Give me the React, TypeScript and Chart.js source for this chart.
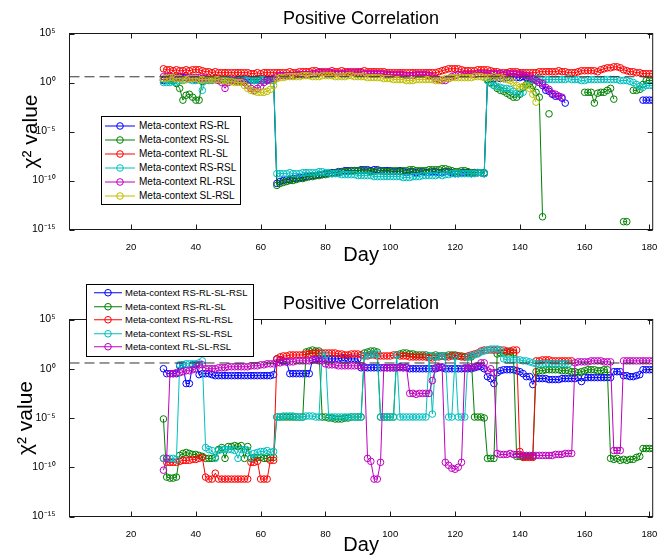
import React, { useEffect, useRef } from "react";
import { Chart, registerables } from "chart.js";

Chart.register(...registerables);

const FONT = '"Liberation Sans", Arial, Helvetica, sans-serif';
const TITLE = "Positive Correlation";
const X_LABEL = "Day";
const Y_LABEL = "χ² value";
const FIRST_DAY = 30;
const X_MIN = 1;
const X_MAX = 181;
const X_TICKS = [20, 40, 60, 80, 100, 120, 140, 160, 180];
const X_TICK_LABELS = ["20", "40", "60", "80", "100", "120", "140", "160", "180"];
const Y_MIN = 1e-15;
const Y_MAX = 1e5;
const Y_TICKS = [1e-15, 1e-10, 1e-5, 1e0, 1e5];
const Y_TICK_LABELS = ["10⁻¹⁵", "10⁻¹⁰", "10⁻⁵", "10⁰", "10⁵"];
const THRESHOLD = 3.84;

const BLUE = "#0000ff";
const GREEN = "#008000";
const RED = "#ff0000";
const CYAN = "#00bfbf";
const MAGENTA = "#bf00bf";
const YELLOW = "#bfbf00";

// log10(chi^2) per day, starting at day 30 (null = no value)
const topRSRL = [
  0.2, 0.3, 0.4, 0.5, 0.5, 0.6, 0.5, 0.5, 0.4, 0.4,
  0.3, 0.3, 0.4, 0.4, 0.3, 0.3, 0.4, 0.4, 0.3, 0.3,
  0.3, 0.2, 0.2, 0.3, 0.3, 0.4, 0.3, 0.3, 0.2, 0.3,
  0.4, 0.3, 0.3, 0.2, 0.3, -10.3, -10.1, -10.0, -9.9, -9.9,
  -9.8, -9.8, -9.7, -9.7, -9.6, -9.6, -9.5, -9.5, -9.4, -9.4,
  -9.3, -9.3, -9.2, -9.2, -9.1, -9.1, -9.0, -9.0, -9.0, -9.0,
  -9.0, -8.9, -8.9, -8.9, -9.0, -8.9, -8.9, -9.0, -9.0, -9.0,
  -9.0, -9.1, -9.1, -9.0, -9.1, -9.2, -9.1, -9.1, -9.2, -9.1,
  -9.1, -9.2, -9.2, -9.1, -9.1, -9.2, -9.2, -9.1, -9.1, -9.2,
  -9.3, -9.3, -9.2, -9.2, -9.2, -9.3, -9.2, -9.2, -9.2, -9.3,
  0.3, 0.4, 0.4, 0.5, 0.4, 0.4, 0.5, 0.5, 0.6, 0.5,
  0.5, 0.6, 0.5, 0.4, 0.3, 0.2, 0.0, -0.3, -0.8, -0.9,
  -1.2, -1.4, -1.4, -1.6, -2.1, null, null, null, null, null,
  null, null, null, null, null, null, null, null, null, null,
  null, null, null, null, null, null, null, null, -1.8, -1.8,
  -1.8, -1.8,
];
const topRSSL = [
  0.3, 0.3, 0.2, 0.2, -0.1, -0.6, -1.8, -1.3, -1.2, -1.5,
  -1.8, -1.8, 0.1, 0.2, 0.3, 0.3, 0.4, 0.3, 0.3, 0.3,
  0.3, 0.3, 0.2, 0.2, 0.3, 0.3, 0.2, 0.2, 0.3, 0.3,
  0.3, 0.3, 0.2, 0.2, 0.3, -10.5, -10.3, -10.2, -10.1, -10.0,
  -10.0, -9.9, -9.8, -9.8, -9.7, -9.6, -9.6, -9.5, -9.5, -9.4,
  -9.4, -9.3, -9.3, -9.2, -9.2, -9.1, -9.1, -9.1, -9.0, -9.0,
  -9.0, -9.0, -9.0, -9.0, -9.1, -9.1, -9.0, -9.0, -9.1, -9.1,
  -9.1, -9.0, -9.0, -9.1, -9.0, -9.0, -8.9, -8.9, -9.0, -9.0,
  -9.0, -9.0, -8.9, -8.9, -8.9, -8.9, -8.8, -8.8, -8.9, -9.0,
  -9.1, -9.1, -9.0, -9.0, -9.1, -9.2, -9.2, -9.2, -9.2, -9.2,
  0.3, 0.0, -0.3, -0.6, -0.8, -0.9, -1.1, -1.3, -1.5, -1.5,
  -1.2, -0.5, -0.2, -0.1, -0.3, -1.0, -1.5, -13.7, null, -3.2,
  null, null, null, null, null, null, null, null, null, null,
  -1.0, -1.0, -1.0, -2.1, -1.1, -1.0, -1.0, -0.8, -0.6, -1.7,
  null, null, -14.2, -14.2, null, -0.8, -0.8, -0.7, -0.2, 0.2,
  0.2, 0.2,
];
const topRLSL = [
  1.4, 1.3, 1.3, 1.2, 1.3, 1.2, 1.2, 1.3, 1.2, 1.3,
  1.3, 1.3, 1.2, 1.1, 1.1, 1.0, 1.1, 1.0, 1.0, 1.0,
  1.0, 1.0, 1.0, 1.0, 1.0, 1.0, 1.0, 0.9, 0.9, 1.0,
  0.9, 1.0, 1.0, 1.0, 1.0, 1.0, 1.0, 1.0, 1.0, 1.1,
  1.0, 1.0, 1.1, 1.1, 1.1, 1.1, 1.2, 1.2, 1.1, 1.1,
  1.1, 1.1, 1.2, 1.1, 1.1, 1.2, 1.1, 1.1, 1.1, 1.1,
  1.1, 1.1, 1.2, 1.1, 1.1, 1.1, 1.1, 1.1, 1.1, 1.0,
  1.0, 1.0, 1.0, 1.0, 1.0, 1.0, 1.0, 1.0, 1.0, 1.0,
  1.0, 1.0, 1.0, 1.0, 1.0, 1.1, 1.2, 1.3, 1.4, 1.4,
  1.4, 1.4, 1.3, 1.2, 1.2, 1.2, 1.2, 1.3, 1.3, 1.3,
  1.3, 1.2, 1.1, 1.1, 1.0, 1.0, 1.0, 1.1, 1.1, 1.1,
  1.0, 1.0, 1.0, 1.0, 1.0, 1.0, 1.1, 1.1, 1.1, 1.1,
  1.1, 1.1, 1.2, 1.1, 1.1, 1.0, 1.0, 1.0, 1.1, 1.2,
  1.2, 1.2, 1.2, 1.2, 1.1, 1.3, 1.4, 1.5, 1.5, 1.6,
  1.6, 1.5, 1.3, 1.2, 1.1, 1.1, 1.0, 1.0, 0.9, 0.9,
  0.9, 0.9,
];
const topRSRSL = [
  0.0, 0.0, 0.0, 0.1, 0.0, 0.2, 0.2, 0.3, 0.3, 0.2,
  0.2, 0.3, -0.8, 0.2, 0.2, 0.2, 0.3, 0.3, 0.3, 0.3,
  0.3, 0.2, 0.2, 0.2, 0.3, 0.3, 0.2, 0.2, 0.2, 0.2,
  0.3, 0.3, 0.2, 0.2, 0.2, -9.3, -9.3, -9.3, -9.3, -9.2,
  -9.3, -9.3, -9.3, -9.2, -9.2, -9.2, -9.2, -9.2, -9.1, -9.1,
  -9.2, -9.2, -9.3, -9.3, -9.3, -9.4, -9.4, -9.4, -9.4, -9.4,
  -9.5, -9.5, -9.5, -9.5, -9.5, -9.6, -9.6, -9.6, -9.6, -9.6,
  -9.6, -9.6, -9.6, -9.6, -9.7, -9.7, -9.7, -9.6, -9.6, -9.6,
  -9.5, -9.5, -9.5, -9.5, -9.5, -9.4, -9.5, -9.4, -9.4, -9.3,
  -9.3, -9.3, -9.3, -9.3, -9.3, -9.3, -9.3, -9.2, -9.2, -9.3,
  0.2, -0.1, -0.3, -0.4, -0.5, -0.6, -0.6, -0.7, -0.9, -1.1,
  -1.1, -1.0, -0.3, 0.2, 0.4, 0.4, 0.4, 0.3, 0.3, 0.3,
  0.3, 0.3, 0.3, 0.3, 0.3, 0.4, 0.3, 0.3, 0.3, 0.2,
  0.2, 0.3, 0.3, 0.3, 0.3, 0.3, 0.3, 0.3, 0.3, 0.3,
  0.3, 0.2, 0.2, 0.2, 0.1, 0.0, -0.2, -0.4, -0.5, -0.3,
  -0.3, -0.3,
];
const topRLRSL = [
  0.6, 0.6, 0.6, 0.5, 0.5, 0.5, 0.6, 0.5, 0.5, 0.5,
  0.5, 0.5, 0.4, 0.4, 0.3, 0.3, 0.3, 0.2, 0.0, -0.6,
  0.0, 0.2, 0.2, 0.1, 0.1, 0.0, -0.3, -0.6, -0.8, -0.6,
  -0.4, 0.0, 0.2, 0.3, 0.4, 0.6, 0.7, 0.7, 0.7, 0.7,
  0.7, 0.8, 0.8, 0.8, 0.8, 0.8, 0.9, 0.9, 1.0, 1.0,
  1.0, 1.0, 1.0, 0.9, 0.9, 0.9, 0.9, 1.0, 1.0, 1.0,
  1.0, 1.0, 0.9, 0.9, 0.9, 0.9, 0.9, 0.9, 0.9, 0.8,
  0.8, 0.8, 0.8, 0.8, 0.8, 0.7, 0.7, 0.7, 0.8, 0.8,
  0.8, 0.8, 0.7, 0.6, 0.4, 0.3, 0.2, 0.2, 0.4, 0.6,
  0.7, 0.8, 0.8, 0.8, 0.8, 0.8, 0.8, 0.9, 0.9, 0.9,
  0.9, 0.9, 0.9, 0.9, 0.9, 0.8, 0.9, 0.9, 0.9, 0.9,
  0.8, 0.8, 0.7, 0.6, 0.4, 0.2, 0.0, -0.1, -0.5, -0.7,
  -1.1, -1.2, -1.4, -1.5,
];
const topSLRSL = [
  0.4, 0.4, 0.5, 0.5, 0.4, 0.4, 0.3, 0.3, 0.4, 0.4,
  0.4, 0.3, 0.3, 0.3, 0.3, 0.3, 0.3, 0.3, 0.2, 0.2,
  0.1, 0.1, 0.0, 0.0, 0.0, -0.3, -0.6, -0.8, -0.9, -1.0,
  -1.0, -1.0, -0.9, -0.7, -0.3, 0.4, 0.5, 0.5, 0.6, 0.6,
  0.6, 0.6, 0.6, 0.7, 0.7, 0.7, 0.6, 0.6, 0.6, 0.7,
  0.7, 0.7, 0.7, 0.6, 0.6, 0.6, 0.6, 0.7, 0.7, 0.6,
  0.6, 0.6, 0.6, 0.5, 0.5, 0.5, 0.5, 0.5, 0.4, 0.4,
  0.4, 0.3, 0.3, 0.3, 0.3, 0.2, 0.2, 0.2, 0.3, 0.3,
  0.3, 0.3, 0.3, 0.3, 0.2, 0.2, 0.3, 0.4, 0.4, 0.5,
  0.5, 0.5, 0.5, 0.5, 0.5, 0.5, 0.6, 0.6, 0.6, 0.5,
  0.5, 0.5, 0.6, 0.5, 0.5, 0.4, 0.3, 0.2, 0.0, -0.3,
  -0.5, -0.4, -0.3, -0.6, -1.2, -2.0,
];

const botRSRLSLRSL = [
  0.0, -0.5, -0.5, -0.5, -0.5, 0.3, 0.4, -1.5, -1.5, 0.4,
  0.4, -0.6, -0.5, -0.5, -0.5, -0.6, -0.7, -0.7, -0.7, -0.7,
  -0.7, -0.7, -0.7, -0.7, -0.7, -0.7, -0.7, -0.7, -0.7, -0.7,
  -0.7, -0.7, -0.7, -0.7, -0.6, 1.0, 0.9, 0.8, 0.7, -0.5,
  -0.5, -0.5, -0.5, -0.5, -0.5, -0.5, 0.9, 1.0, 1.0, 1.0,
  1.0, 1.0, 1.0, 1.0, 1.0, 1.1, 1.1, 1.0, 1.0, 1.0,
  1.0, 0.1, 0.1, 0.1, 0.1, 0.1, 0.1, 0.1, 0.1, 0.1,
  0.1, 0.1, 0.1, 0.2, 0.1, 0.1, 0.0, 0.0, 0.0, 0.0,
  0.0, 0.0, 0.0, 0.0, 0.0, 0.1, 0.1, 0.0, 0.0, 0.0,
  0.0, 0.0, 0.0, 0.0, 0.0, 0.0, 0.1, 0.2, 0.2, 0.0,
  -0.8, -1.0, -1.5, -0.4, -0.2, -0.1, -0.1, -0.1, -0.1, -0.2,
  -0.3, -0.5, -0.8, -0.8, -1.6, -1.0, -1.0, -1.0, -1.0, -1.1,
  -1.1, -1.1, -1.1, -1.0, -1.0, -1.0, -1.0, -1.0, -0.9, -1.3,
  -0.9, -0.9, -0.9, -0.9, -0.9, -0.9, -0.9, -0.9, -0.9, -0.3,
  -0.3, -0.3, -0.7, -0.7, -0.8, -0.8, -0.7, -0.6, -0.1, -0.1,
  -0.1, -0.1,
];
const botRSRLSL = [
  -5.1, -11.0, -11.1, -11.1, -11.0, -8.8, -8.6, -8.5, -8.6, -8.7,
  -8.7, -8.8, -8.9, -9.1, -9.1, -9.1, -9.0, -8.2, -8.0, -9.1,
  -7.9, -7.9, -7.8, -7.9, -7.8, -9.1, -7.9, -9.1, -9.0, -9.0,
  -9.0, -9.1, -9.1, -9.0, -9.0, -4.9, -4.9, -4.9, -4.9, -4.9,
  -4.9, -4.9, -4.9, -4.9, 1.7, 1.8, 1.9, 1.8, 1.8, -4.9,
  -4.9, -5.0, -5.0, -5.1, -5.1, -5.1, -5.0, -5.0, -4.9, -4.9,
  -4.9, -4.9, 1.6, 1.7, 1.8, 1.8, 1.7, -4.9, -4.9, -4.9,
  -4.9, -4.9, 1.4, 1.5, 1.6, 1.6, 1.5, 1.5, 1.4, 1.4,
  1.4, 1.4, 1.3, 1.3, 1.4, 1.3, 1.3, 1.3, 1.4, 1.4,
  1.4, 1.3, 1.3, 1.2, 1.2, 1.2, -4.9, -4.9, -4.9, -5.0,
  -9.1, -9.1, -9.1, 1.5, 1.6, 1.6, 1.7, 1.7, 1.6, -8.9,
  -8.9, -8.9, -8.9, -8.9, -8.9, -0.3, -0.2, -0.2, -0.1, -0.1,
  -0.1, -0.1, -0.1, -0.2, -0.2, -0.2, -0.3, -0.3, -0.4, -0.3,
  -0.2, -0.1, -0.1, -0.1, -0.2, -0.2, -0.1, -0.1, -9.1, -9.2,
  -9.1, -9.3, -9.2, -9.3, -9.2, -9.2, -9.0, -8.9, -8.1, -8.1,
  -8.1, -8.1,
];
const botRSRLRSL = [
  -9.1, -9.5, -9.5, -9.5, -9.5, -9.4, -9.3, -9.3, -9.3, -9.2,
  -9.2, -9.1, -9.0, -11.0, -11.2, -11.2, -10.6, -11.2, -11.2, -11.2,
  -11.2, -11.2, -11.2, -11.2, -11.2, -11.2, -11.2, -9.5, -9.5, -9.4,
  -11.2, -11.2, -11.2, -9.3, -9.3, 1.0, 1.2, 1.3, 1.3, 1.4,
  1.4, 1.4, 1.4, 1.4, 1.5, 1.5, 1.6, 1.6, 1.6, 1.6,
  1.6, 1.6, 1.6, 1.6, 1.5, 1.5, 1.4, 1.4, 1.5, 1.5,
  1.5, 1.4, 1.3, 1.3, 1.4, 1.4, 1.3, 1.3, 1.3, 1.3,
  1.3, 1.4, 1.4, 1.3, 1.3, 1.3, 1.2, 1.2, 1.2, 1.2,
  1.2, 1.2, 1.1, 1.1, 1.2, 1.2, 1.3, 1.2, 1.2, 1.3,
  1.3, 1.3, 1.2, 1.2, 1.3, 1.4, 1.5, 1.6, 1.8, 1.9,
  1.9, 1.9, 1.9, 1.9, 1.9, 1.9, 1.8, 1.8, 1.9, 1.9,
  -8.4, -9.0, -9.0, -9.0, -9.0, 0.8, 0.8, 0.9, 0.9, 0.9,
  0.8, 0.8, 0.8, 0.8, 0.8, 0.8, 0.8,
];
const botRSSLRSL = [
  -9.1, -9.1, -9.1, -9.1, -9.2, 0.4, 0.4, 0.5, 0.5, 0.5,
  0.5, 0.6, 0.8, -8.0, -8.2, -8.3, -9.1, -8.3, -8.2, -8.2,
  -8.2, -8.2, -8.3, -9.1, -8.2, -8.2, -8.3, -9.0, -8.6, -8.5,
  -8.4, -8.4, -8.3, -8.5, -8.4, -4.9, -4.9, -4.8, -4.8, -4.8,
  -4.8, -4.9, -4.9, -4.9, -4.8, -4.8, -4.8, -4.9, -4.9, 1.4,
  1.4, -4.9, -4.9, -4.9, -4.9, -4.9, -4.9, -4.9, -4.9, -4.9,
  -4.9, -4.9, 1.3, 1.4, 1.4, 1.5, 1.5, -4.9, -4.9, -4.9,
  -4.9, -4.9, 1.4, -4.9, -4.9, -4.9, -4.9, -4.9, -4.9, -4.9,
  -4.9, -4.9, 1.3, -4.6, 1.2, 1.3, 1.3, 1.3, -4.9, -4.9,
  1.2, -4.9, -4.9, -4.9, 1.2, 1.3, 1.4, 1.5, 1.7, 1.8,
  1.9, 2.0, 2.0, 2.0, 1.9, 1.0, 0.9, 0.9, 0.9, 0.9,
  0.9, 0.8, 0.8, 0.7, 0.6, 0.5, 0.5, 0.5, 0.5, 0.5,
  0.5, 0.5, 0.5, 0.5, 0.5, 0.5,
];
const botRLSLRSL = [
  -10.3, -9.1, -0.5, -0.5, -0.4, -0.4, -0.3, -0.2, -0.2, -0.1,
  0.0, 0.4, 0.4, 0.0, 0.0, 0.0, 0.0, 0.1, 0.1, 0.1,
  0.2, 0.2, 0.2, 0.2, 0.2, 0.2, 0.2, 0.3, 0.3, 0.3,
  0.4, 0.4, 0.5, 0.5, 0.5, 0.6, 0.6, 0.7, 0.7, 0.7,
  0.7, 0.8, 0.8, 0.8, 0.8, 0.8, 0.9, 0.9, 0.8, 0.8,
  0.5, 0.4, 0.4, 0.4, 0.3, 0.3, 0.3, 0.3, 0.3, 0.3,
  0.3, 0.3, 0.2, -9.1, -9.4, -11.2, -11.2, -9.5, 0.1, 0.1,
  0.1, 0.1, 0.1, 0.1, 0.1, 0.2, -2.5, -2.5, -2.6, -2.5,
  -2.5, -2.5, -2.5, -1.2, 0.1, 0.2, 0.2, -9.5, -9.8, -10.1,
  -10.2, -10.0, -9.5, 0.1, 0.1, 0.2, 0.2, 0.3, 0.6, 0.6,
  -0.2, 0.0, -0.4, -8.6, -8.7, -8.7, -8.7, -8.6, -8.7, -8.7,
  -8.7, -8.8, -8.8, -8.8, -8.8, -8.8, -8.8, -8.8, -8.8, -8.8,
  -8.8, -8.7, -8.7, -8.7, -8.6, -8.6, -8.6, 0.6, 0.7, 0.7,
  0.7, 0.7, 0.8, 0.8, 0.8, 0.8, 0.7, 0.7, 0.7, -8.3,
  -8.3, -8.3, 0.8, 0.8, 0.8, 0.8, 0.8, 0.8, 0.8, 0.8,
  0.8, 0.8,
];

type Series = { label: string; color: string; logs: (number | null)[] };

const TOP_SERIES: Series[] = [
  { label: "Meta-context RS-RL", color: BLUE, logs: topRSRL },
  { label: "Meta-context RS-SL", color: GREEN, logs: topRSSL },
  { label: "Meta-context RL-SL", color: RED, logs: topRLSL },
  { label: "Meta-context RS-RSL", color: CYAN, logs: topRSRSL },
  { label: "Meta-context RL-RSL", color: MAGENTA, logs: topRLRSL },
  { label: "Meta-context SL-RSL", color: YELLOW, logs: topSLRSL },
];
const BOTTOM_SERIES: Series[] = [
  { label: "Meta-context RS-RL-SL-RSL", color: BLUE, logs: botRSRLSLRSL },
  { label: "Meta-context RS-RL-SL", color: GREEN, logs: botRSRLSL },
  { label: "Meta-context RS-RL-RSL", color: RED, logs: botRSRLRSL },
  { label: "Meta-context RS-SL-RSL", color: CYAN, logs: botRSSLRSL },
  { label: "Meta-context RL-SL-RSL", color: MAGENTA, logs: botRLSLRSL },
];

const toPoints = (logs: (number | null)[]) =>
  logs.map((v, i) => ({ x: FIRST_DAY + i, y: v === null ? null : Math.pow(10, v) }));

const framePlugin = {
  id: "matlabFrame",
  afterDraw(chart: any) {
    const { ctx, chartArea: a, scales } = chart;
    ctx.save();
    ctx.strokeStyle = "#1a1a1a";
    ctx.lineWidth = 1;
    ctx.setLineDash([]);
    ctx.strokeRect(a.left, a.top, a.right - a.left, a.bottom - a.top);
    const len = 5;
    ctx.beginPath();
    for (const t of X_TICKS) {
      const x = Math.round(scales.x.getPixelForValue(t)) + 0.5;
      ctx.moveTo(x, a.bottom);
      ctx.lineTo(x, a.bottom - len);
      ctx.moveTo(x, a.top);
      ctx.lineTo(x, a.top + len);
    }
    for (const t of Y_TICKS) {
      const y = Math.round(scales.y.getPixelForValue(t)) + 0.5;
      ctx.moveTo(a.left, y);
      ctx.lineTo(a.left + len, y);
      ctx.moveTo(a.right, y);
      ctx.lineTo(a.right - len, y);
    }
    ctx.stroke();
    ctx.restore();
  },
};

type PanelCfg = {
  top: number;
  height: number;
  titlePadTop: number;
  titlePadBottom: number;
  xAxisHeight: number;
  dayPadBottom: number;
  yTitlePadTop: number;
};

const TOP_PANEL: PanelCfg = { top: 0, height: 270, titlePadTop: 8, titlePadBottom: 3.9, xAxisHeight: 40.5, dayPadBottom: 3, yTitlePadTop: 18.5 };
const BOTTOM_PANEL: PanelCfg = { top: 270, height: 288, titlePadTop: 23, titlePadBottom: 4.9, xAxisHeight: 41.5, dayPadBottom: 1, yTitlePadTop: 14 };

function Panel({ cfg, series }: { cfg: PanelCfg; series: Series[] }) {
  const ref = useRef<HTMLCanvasElement | null>(null);
  useEffect(() => {
    const canvas = ref.current;
    if (!canvas) return;
    const n = series.length;
    const datasets: any[] = series.map((s, i) => ({
      label: s.label,
      data: toPoints(s.logs),
      borderColor: s.color,
      backgroundColor: "rgba(0,0,0,0)",
      pointBorderColor: s.color,
      pointBackgroundColor: "rgba(0,0,0,0)",
      borderWidth: 1,
      pointRadius: 3.3,
      pointHoverRadius: 3.3,
      pointBorderWidth: 1,
      pointStyle: "circle",
      fill: false,
      tension: 0,
      spanGaps: false,
      order: n - i + 1,
      clip: 0,
    }));
    datasets.push({
      label: "threshold",
      data: [
        { x: X_MIN, y: THRESHOLD },
        { x: X_MAX, y: THRESHOLD },
      ],
      borderColor: "#333333",
      borderDash: [10, 5],
      borderWidth: 1,
      pointRadius: 0,
      fill: false,
      order: 0,
      clip: 0,
    });
    const chart = new Chart(canvas, {
      type: "line",
      data: { datasets },
      options: {
        responsive: false,
        animation: false,
        devicePixelRatio: 1,
        events: [],
        layout: { padding: { left: 0, right: 1.5, top: 0, bottom: 0 } },
        plugins: {
          legend: { display: false },
          tooltip: { enabled: false },
          title: {
            display: true,
            text: TITLE,
            fullSize: false,
            color: "#000",
            font: { family: FONT, size: 18, weight: "normal" },
            padding: { top: cfg.titlePadTop, bottom: cfg.titlePadBottom },
          },
        },
        scales: {
          x: {
            type: "linear",
            min: X_MIN,
            max: X_MAX,
            grid: { display: false },
            border: { display: false },
            afterBuildTicks: (s: any) => {
              s.ticks = X_TICKS.map((v) => ({ value: v }));
            },
            afterFit: (s: any) => {
              s.height = cfg.xAxisHeight;
              s.paddingLeft = 0;
              s.paddingRight = 0;
            },
            ticks: {
              color: "#000",
              font: { family: FONT, size: 9.5 },
              padding: 4,
              maxRotation: 0,
              autoSkip: false,
              callback: (_v: any, i: number) => X_TICK_LABELS[i],
            },
            title: {
              display: true,
              text: X_LABEL,
              color: "#000",
              font: { family: FONT, size: 20 },
              padding: { top: 0, bottom: cfg.dayPadBottom },
            },
          },
          y: {
            type: "logarithmic",
            min: Y_MIN,
            max: Y_MAX,
            grid: { display: false },
            border: { display: false },
            afterBuildTicks: (s: any) => {
              s.ticks = Y_TICKS.map((v) => ({ value: v }));
            },
            afterFit: (s: any) => {
              s.width = 69.5;
              s.paddingTop = 0;
              s.paddingBottom = 0;
            },
            ticks: {
              color: "#000",
              font: { family: FONT, size: 10.5 },
              padding: 6,
              autoSkip: false,
              callback: (_v: any, i: number) => Y_TICK_LABELS[i],
            },
            title: {
              display: true,
              text: Y_LABEL,
              color: "#000",
              font: { family: FONT, size: 21 },
              padding: { top: cfg.yTitlePadTop, bottom: 0 },
            },
          },
        },
      } as any,
      plugins: [framePlugin],
    });
    return () => chart.destroy();
  }, []);
  return (
    <canvas
      ref={ref}
      width={657}
      height={cfg.height}
      style={{ position: "absolute", left: 0, top: cfg.top, width: 657, height: cfg.height }}
    />
  );
}

type LegendCfg = {
  left: number;
  top: number;
  width: number;
  rowHeight: number;
  padTop: number;
  padBottom: number;
  lineX0: number;
  lineX1: number;
  textX: number;
  fontSize: number;
};

const TOP_LEGEND: LegendCfg = { left: 101, top: 116, width: 140, rowHeight: 14, padTop: 1.5, padBottom: 1.5, lineX0: 3, lineX1: 33, textX: 37, fontSize: 10 };
const BOTTOM_LEGEND: LegendCfg = { left: 86, top: 284, width: 168, rowHeight: 13.5, padTop: 1, padBottom: 2, lineX0: 7, lineX1: 35, textX: 38, fontSize: 9.5 };

function Legend({ cfg, series }: { cfg: LegendCfg; series: Series[] }) {
  const svgW = cfg.lineX1 - cfg.lineX0;
  return (
    <div
      style={{
        position: "absolute",
        left: cfg.left,
        top: cfg.top,
        width: cfg.width,
        boxSizing: "border-box",
        border: "1px solid #000",
        background: "#fff",
        paddingTop: cfg.padTop,
        paddingBottom: cfg.padBottom,
        fontFamily: FONT,
        fontSize: cfg.fontSize,
        color: "#000",
        zIndex: 2,
      }}
    >
      {series.map((s) => (
        <div key={s.label} style={{ position: "relative", height: cfg.rowHeight }}>
          <svg
            width={svgW}
            height={cfg.rowHeight}
            style={{ position: "absolute", left: cfg.lineX0, top: 0 }}
          >
            <line x1={0} y1={cfg.rowHeight / 2} x2={svgW} y2={cfg.rowHeight / 2} stroke={s.color} strokeWidth={1} />
            <circle cx={svgW / 2} cy={cfg.rowHeight / 2} r={3.3} fill="none" stroke={s.color} strokeWidth={1} />
          </svg>
          <span
            style={{
              position: "absolute",
              left: cfg.textX,
              top: 0,
              lineHeight: cfg.rowHeight + "px",
              whiteSpace: "nowrap",
            }}
          >
            {s.label}
          </span>
        </div>
      ))}
    </div>
  );
}

export default function App() {
  return (
    <div style={{ position: "absolute", left: 0, top: 0, width: 657, height: 558, background: "#fff", overflow: "hidden" }}>
      <Panel cfg={TOP_PANEL} series={TOP_SERIES} />
      <Panel cfg={BOTTOM_PANEL} series={BOTTOM_SERIES} />
      <Legend cfg={TOP_LEGEND} series={TOP_SERIES} />
      <Legend cfg={BOTTOM_LEGEND} series={BOTTOM_SERIES} />
    </div>
  );
}
